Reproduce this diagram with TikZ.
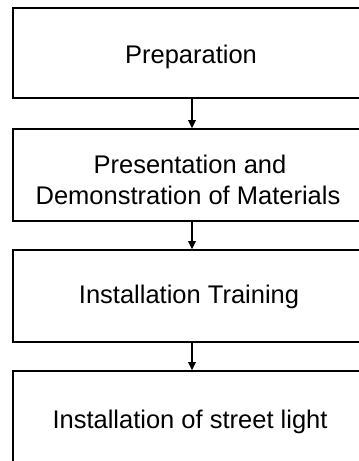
\documentclass[tikz,border=0pt]{standalone}
\usepackage{fontspec}
\setmainfont{Liberation Sans}
\usetikzlibrary{arrows.meta}
\begin{document}
\begin{tikzpicture}[x=1pt,y=-1pt,
  stagebox/.style={draw=black,line width=1.6pt,rectangle,inner sep=0pt},
  stagetext/.style={anchor=base,inner sep=0pt,font=\fontsize{25.5}{32}\selectfont,align=center},
  flow/.style={draw=black,line width=1.4pt,-{Triangle[length=8pt,width=7.5pt]}}]
\useasboundingbox (0,0) rectangle (359,461);
\clip (0,0) rectangle (359,461);
\fill[white] (0,0) rectangle (359,461);
\node[stagebox,minimum width=358pt,minimum height=90pt] (b1) at (192,53) {};
\node[stagebox,minimum width=358pt,minimum height=92pt] (b2) at (192,175) {};
\node[stagebox,minimum width=358pt,minimum height=92pt] (b3) at (192,296) {};
\node[stagebox,minimum width=358pt,minimum height=120pt] (b4) at (192,431) {};
\node[stagetext] (t1) at (191,63) {Preparation};
\node[stagetext] (t2a) at (190,173) {Presentation and};
\node[stagetext] (t2b) at (188,204) {Demonstration of Materials};
\node[stagetext] (t3) at (189,303) {Installation Training};
\node[stagetext] (t4) at (190,428) {Installation of street light};
\draw[flow] (b1.south) -- (b2.north);
\draw[flow] (b2.south) -- (b3.north);
\draw[flow] (b3.south) -- (b4.north);
\end{tikzpicture}
\end{document}
